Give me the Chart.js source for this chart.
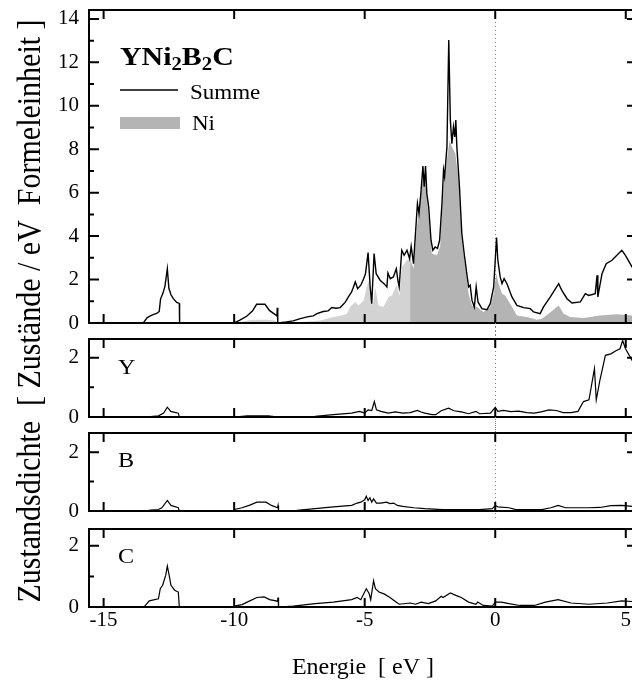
<!DOCTYPE html>
<html><head><meta charset="utf-8">
<script src="https://cdn.jsdelivr.net/npm/chart.js@4.4.1/dist/chart.umd.min.js"></script>
<style>
html,body{margin:0;padding:0;overflow:hidden;background:#fff;width:632px;height:687px}
#wrap{position:relative;width:632px;height:687px;overflow:hidden;background:#fff}
canvas{position:absolute;left:0;top:0}
</style></head><body>
<div id="wrap">
<canvas id="cTop" width="645" height="687" style="top:-13px"></canvas>
<canvas id="cY" width="645" height="687"></canvas>
<canvas id="cB" width="645" height="687"></canvas>
<canvas id="cC" width="645" height="687"></canvas>
</div>
<script>
// ---------- tick labels ----------
const xTickLabels = [-15, -10, -5, 0, 5];
const topYTicks = [0, 2, 4, 6, 8, 10, 12, 14];
const topYMinor = [1, 3, 5, 7, 9, 11, 13];
const subYTicks = [0, 2];
const subYMinor = [1];

// ---------- Summe (total DOS) ----------
const sumE = [-15.6,-13.48,-13.33,-13.15,-12.95,-12.87,-12.82,-12.72,-12.65,-12.56,-12.5,-12.42,-12.33,-12.2,-12.1,-12.09,
-10.0,-9.8,-9.52,-9.3,-9.14,-8.82,-8.65,-8.44,-8.36,-8.35,-8.33,-8.0,-7.74,-7.47,-7.2,-6.97,-6.83,-6.59,-6.4,-6.26,-6.1,-5.94,
-5.75,-5.6,-5.5,-5.36,-5.27,-5.15,-5.04,-4.97,-4.87,-4.79,-4.73,-4.64,-4.56,-4.41,-4.25,-4.15,-4.11,-4.02,-3.9,-3.79,-3.73,-3.68,
-3.58,-3.49,-3.38,-3.28,-3.22,-3.13,-3.03,-2.98,-2.92,-2.85,-2.77,-2.72,-2.67,-2.62,-2.55,-2.46,-2.39,-2.3,-2.21,-2.13,-2.04,
-1.98,-1.94,-1.85,-1.78,-1.72,-1.66,-1.6,-1.55,-1.51,-1.47,-1.37,-1.28,-1.19,-1.09,-1.02,-0.96,-0.89,-0.8,-0.73,-0.66,-0.51,
-0.32,-0.19,-0.06,0.0,0.05,0.1,0.19,0.26,0.34,0.45,0.64,0.83,1.09,1.34,1.47,1.72,1.85,2.11,2.43,2.55,2.75,2.94,3.26,3.45,3.58,
3.83,3.9,3.93,4.09,4.25,4.47,4.66,4.85,4.98,5.24,5.45];
const sumV = [0,0,0.25,0.36,0.45,0.53,1.1,1.4,1.7,2.5,1.6,1.3,1.12,0.95,0.9,0,
0,0.12,0.31,0.55,0.86,0.86,0.58,0.4,0.32,0.7,0,0.05,0.1,0.2,0.28,0.33,0.43,0.53,0.56,0.71,0.68,0.71,
0.95,1.25,1.43,1.89,1.58,1.74,2.04,2.27,3.24,1.66,0.89,3.2,2.27,1.97,1.8,1.66,2.3,2.04,2.12,2.5,1.97,1.66,
3.35,3.12,3.35,2.96,3.53,2.73,4.58,5.5,5.04,5.96,7.23,6.27,7.23,5.96,5.35,3.81,3.35,3.5,3.43,3.81,5.5,
7.04,6.73,8.11,13.03,9.34,8.26,9.03,8.57,9.34,8.11,6.27,4.12,3.2,2.27,1.66,1.74,1.04,0.74,1.66,0.97,0.66,
0.61,0.89,1.66,2.89,3.93,2.89,2.12,1.81,2.04,1.81,1.2,0.81,0.71,0.66,0.51,0.43,0.74,1.2,1.81,1.5,1.12,0.92,0.97,1.35,1.27,
1.35,2.2,1.2,2.27,2.73,2.89,3.12,3.35,3.12,2.58,2.4];

// ---------- Ni partial DOS (two shades) ----------
const niLoE = [-10.0,-9.6,-9.3,-8.7,-8.4,-8.33,-7.8,-7.47,-6.7,-6.19,-5.9,-5.68,-5.56,-5.36,-5.24,-5.04,-4.92,-4.83,-4.75,-4.69,
-4.6,-4.47,-4.28,-4.09,-3.96,-3.77,-3.67,-3.58,-3.38,-3.26];
const niLoV = [0,0.08,0.15,0.15,0.1,0,0.02,0.05,0.12,0.28,0.35,0.43,0.74,0.97,0.81,1.04,1.66,1.97,1.04,0.81,
1.66,0.81,0.74,1.2,1.27,1.74,1.27,2.58,2.89,2.96];
const niHiE = [-3.26,-3.13,-3.0,-2.87,-2.77,-2.67,-2.55,-2.43,-2.24,-2.11,-1.98,-1.85,-1.75,-1.66,-1.53,-1.4,-1.28,-1.15,-1.02,
-0.89,-0.7,-0.45,-0.19,-0.06,0.04,0.13,0.26,0.38,0.57,0.83,1.21,1.6,1.79,2.04,2.43,2.62,2.87,3.38,4.02,4.66,5.24,5.45];
const niHiV = [2.96,2.5,4.42,5.65,6.73,6.57,4.88,3.2,3.12,3.5,6.27,7.5,8.4,8.11,7.8,6.57,3.81,2.58,1.35,
0.81,0.74,0.51,0.74,1.35,2.27,1.81,1.35,1.27,0.89,0.35,0.28,0.15,0.2,0.43,0.81,0.43,0.28,0.23,0.35,0.4,0.35,0.35];

// ---------- Y partial DOS ----------
const yE = [-15.6,-13.4,-12.9,-12.7,-12.56,-12.43,-12.14,-12.1,-10,-9.5,-8.7,-8.3,-7.5,-6.9,-6.2,-5.5,-5.2,-5.0,-4.87,-4.73,
-4.63,-4.55,-4.38,-4.1,-3.82,-3.54,-3.26,-2.98,-2.84,-2.7,-2.42,-2.28,-2.07,-1.79,-1.58,-1.3,-1.02,-0.74,-0.6,-0.18,0,0.1,
0.31,0.6,0.9,1.2,1.5,1.8,2.06,2.34,2.6,2.9,3.17,3.38,3.59,3.8,3.87,4.01,4.22,4.43,4.64,4.78,4.88,4.99,5.24,5.45];
const yV = [0,0,0.04,0.13,0.33,0.19,0.13,0,0,0.04,0.04,0,0,0.02,0.08,0.13,0.19,0.13,0.24,0.22,
0.52,0.24,0.19,0.13,0.17,0.13,0.15,0.22,0.17,0.13,0.08,0.08,0.21,0.3,0.21,0.17,0.11,0.19,0.11,0.13,0.33,0.19,
0.22,0.18,0.2,0.15,0.13,0.18,0.24,0.22,0.15,0.15,0.19,0.52,0.58,1.63,0.58,1.24,2.08,2.13,2.24,2.3,2.58,2.3,1.91,1.8];

// ---------- B partial DOS ----------
const bE = [-15.6,-13.4,-13.2,-12.9,-12.77,-12.56,-12.42,-12.14,-12.1,-10,-9.98,-9.7,-9.4,-9.13,-8.78,-8.57,-8.34,-8.32,-8.3,
-7.6,-6.9,-6.2,-5.5,-5.29,-5.15,-5.0,-4.94,-4.87,-4.8,-4.73,-4.66,-4.55,-4.38,-4.17,-4.03,-3.89,-3.75,-3.54,-3.12,-2.7,-2.0,
-1.3,-0.6,-0.11,0,0.1,0.52,0.8,1.78,2.13,2.41,2.69,3.59,4.01,4.43,4.85,5.24,5.45];
const bV = [0,0,0.03,0.05,0.11,0.36,0.19,0.11,0,0,0.05,0.11,0.2,0.3,0.3,0.19,0.11,0.19,0,
0.02,0.08,0.14,0.19,0.27,0.3,0.38,0.5,0.36,0.45,0.3,0.41,0.27,0.27,0.3,0.25,0.27,0.19,0.16,0.11,0.08,0.05,
0.05,0.05,0.08,0.19,0.14,0.11,0.05,0.05,0.11,0.19,0.11,0.11,0.12,0.18,0.19,0.16,0.16];

// ---------- C partial DOS ----------
const cE = [-15.6,-13.45,-13.4,-13.25,-12.9,-12.83,-12.74,-12.62,-12.56,-12.49,-12.42,-12.28,-12.14,-12.1,-10,-9.98,-9.7,-9.4,
-9.13,-8.85,-8.64,-8.34,-8.32,-8.3,-7.74,-6.9,-6.2,-5.5,-5.29,-5.15,-4.94,-4.83,-4.77,-4.66,-4.59,-4.45,-4.24,-4.03,-3.89,
-3.68,-3.26,-3.05,-2.84,-2.56,-2.28,-2.07,-2.0,-1.72,-1.51,-1.3,-1.02,-0.74,-0.67,-0.46,-0.11,0,0.24,0.52,0.94,1.5,1.92,
2.41,2.9,3.59,4.29,4.85,5.24,5.45];
const cV = [0,0,0.05,0.2,0.27,0.6,0.71,1.04,1.34,1.04,0.71,0.55,0.49,0,0,0.03,0.08,0.2,
0.31,0.33,0.24,0.19,0.31,0,0.03,0.11,0.16,0.24,0.31,0.24,0.6,0.44,0.24,0.86,0.6,0.49,0.42,0.31,0.22,
0.09,0.13,0.09,0.16,0.11,0.2,0.35,0.31,0.46,0.38,0.31,0.16,0.09,0.16,0.05,0.03,0.16,0.16,0.11,0.05,0.05,0.16,
0.24,0.13,0.09,0.13,0.2,0.18,0.18];

// ---------- texts ----------
const formulaParts = [['YNi', false], ['2', true], ['B', false], ['2', true], ['C', false]];
const legendLabels = ['Summe', 'Ni'];
const panelLabels = ['Y', 'B', 'C'];
const xTitle = 'Energie  [ eV ]';
const yTitle = 'Zustandsdichte  [ Zustände / eV  Formeleinheit ]';

// ---------- helpers ----------
const SERIF = '"Liberation Serif", "Times New Roman", serif';
const pts = (E, V) => E.map((e, i) => ({x: e, y: V[i]}));
const STRETCH = 1.15;
const TOP_SHIFT = 13; // top canvas is moved up by this many px

function stretchedText(ctx, txt, x, y, font) {
  ctx.save();
  ctx.font = font;
  ctx.textBaseline = 'alphabetic';
  ctx.textAlign = 'left';
  ctx.translate(x, y);
  ctx.scale(STRETCH, 1);
  ctx.fillStyle = '#000';
  ctx.fillText(txt, 0, 0);
  ctx.restore();
}

function makeFrame(o) {
  return {
    id: 'frame_' + o.name,
    beforeDatasetsDraw(chart) {
      if (!o.dotted) return;
      const ctx = chart.ctx;
      const x = Math.round(chart.scales.x.getPixelForValue(0)) + 0.5;
      ctx.save();
      ctx.strokeStyle = '#808080';
      ctx.lineWidth = 1;
      ctx.setLineDash([1, 3]);
      ctx.beginPath();
      ctx.moveTo(x, o.dotted[0]);
      ctx.lineTo(x, o.dotted[1]);
      ctx.stroke();
      ctx.restore();
    },
    afterDatasetsDraw(chart) {
      const {ctx, chartArea: a, scales: {x, y}} = chart;
      ctx.save();
      ctx.strokeStyle = '#000';
      ctx.lineWidth = 2;
      ctx.strokeRect(a.left, a.top, a.right - a.left, a.bottom - a.top);
      ctx.beginPath();
      for (const v of xTickLabels) {
        const px = x.getPixelForValue(v);
        ctx.moveTo(px, a.bottom); ctx.lineTo(px, a.bottom - 9);
        ctx.moveTo(px, a.top); ctx.lineTo(px, a.top + 9);
      }
      for (const v of o.yTicks) {
        const py = y.getPixelForValue(v);
        ctx.moveTo(a.left, py); ctx.lineTo(a.left + 10, py);
        ctx.moveTo(a.right, py); ctx.lineTo(a.right - 10, py);
      }
      for (const v of o.yMinor) {
        const py = y.getPixelForValue(v);
        ctx.moveTo(a.left, py); ctx.lineTo(a.left + 5, py);
        ctx.moveTo(a.right, py); ctx.lineTo(a.right - 5, py);
      }
      ctx.stroke();
      ctx.restore();
      if (o.draw) o.draw(ctx, chart);
    }
  };
}

function makeChart(id, o) {
  const tickFont = {family: SERIF, size: 21};
  const xScale = {
    type: 'linear', min: -15.56, max: 5.43,
    display: !!o.showX,
    grid: {display: false, drawTicks: false},
    border: {display: false},
    ticks: {font: tickFont, color: '#000', padding: 1, maxRotation: 0, autoSkip: false, callback: v => String(v)},
    afterBuildTicks: s => { s.ticks = xTickLabels.map(v => ({value: v})); }
  };
  if (o.showX) {
    xScale.title = {display: true, text: xTitle, color: '#000', font: {family: SERIF, size: 24}, padding: {top: 0, bottom: 5}};
    xScale.afterFit = s => { s.height = 80; };
  }
  return new Chart(document.getElementById(id), {
    type: 'line',
    data: {datasets: o.datasets},
    options: {
      responsive: false, animation: false, devicePixelRatio: 1,
      layout: {padding: {left: 0, right: 8, top: o.padTop, bottom: o.padBottom}},
      plugins: {legend: {display: false}, tooltip: {enabled: false}},
      elements: {point: {radius: 0}, line: {tension: 0}},
      scales: {
        x: xScale,
        y: {
          type: 'linear', min: 0, max: o.yMax,
          grid: {display: false, drawTicks: false},
          border: {display: false},
          ticks: {font: tickFont, color: '#000', padding: 10, callback: v => String(v)},
          afterBuildTicks: s => { s.ticks = o.yTicks.map(v => ({value: v})); },
          afterFit: s => { s.width = 89; }
        }
      }
    },
    plugins: [makeFrame(o)]
  });
}

const lineDs = (label, E, V, w) => ({label, data: pts(E, V), borderColor: '#000', borderWidth: w, pointRadius: 0, fill: false});

// ---------- top panel (canvas shifted up by TOP_SHIFT) ----------
makeChart('cTop', {
  name: 'top', padTop: 10 + TOP_SHIFT, padBottom: 687 - 323 - TOP_SHIFT, yMax: 14.41,
  yTicks: topYTicks, yMinor: topYMinor, dotted: [10 + TOP_SHIFT, 339 + TOP_SHIFT],
  datasets: [
    lineDs(legendLabels[0], sumE, sumV, 1.4),
    {label: legendLabels[1], data: pts(niLoE, niLoV), borderWidth: 0, borderColor: 'rgba(0,0,0,0)', backgroundColor: '#d3d3d3', fill: 'origin', pointRadius: 0},
    {label: legendLabels[1], data: pts(niHiE, niHiV), borderWidth: 0, borderColor: 'rgba(0,0,0,0)', backgroundColor: '#b4b4b4', fill: 'origin', pointRadius: 0}
  ],
  draw(ctx) {
    const s = TOP_SHIFT;
    let x = 120;
    ctx.save();
    for (const [t, sub] of formulaParts) {
      const font = sub ? 'bold 18px ' + SERIF : 'bold 26px ' + SERIF;
      ctx.font = font;
      const w = ctx.measureText(t).width * STRETCH;
      stretchedText(ctx, t, x, (sub ? 70 : 65) + s, font);
      x += w;
    }
    ctx.strokeStyle = '#000';
    ctx.lineWidth = 1.4;
    ctx.beginPath(); ctx.moveTo(120, 90 + s); ctx.lineTo(178, 90 + s); ctx.stroke();
    stretchedText(ctx, legendLabels[0], 190, 99 + s, '20px ' + SERIF);
    ctx.fillStyle = '#b4b4b4';
    ctx.fillRect(120, 117 + s, 60, 12);
    stretchedText(ctx, legendLabels[1], 192, 130 + s, '20px ' + SERIF);
    ctx.restore();
  }
});

// ---------- Y panel ----------
makeChart('cY', {
  name: 'Y', padTop: 339, padBottom: 687 - 417, yMax: 2.63,
  yTicks: subYTicks, yMinor: subYMinor, dotted: [323, 433],
  datasets: [lineDs(panelLabels[0], yE, yV, 1.2)],
  draw(ctx) { stretchedText(ctx, panelLabels[0], 118, 374, '21px ' + SERIF); }
});

// ---------- B panel ----------
makeChart('cB', {
  name: 'B', padTop: 433, padBottom: 687 - 511, yMax: 2.65,
  yTicks: subYTicks, yMinor: subYMinor, dotted: [417, 520],
  datasets: [lineDs(panelLabels[1], bE, bV, 1.2)],
  draw(ctx) { stretchedText(ctx, panelLabels[1], 118, 467, '21px ' + SERIF); }
});

// ---------- C panel ----------
makeChart('cC', {
  name: 'C', padTop: 529, padBottom: 0, yMax: 2.55, showX: true,
  yTicks: subYTicks, yMinor: subYMinor, dotted: null,
  datasets: [lineDs(panelLabels[2], cE, cV, 1.2)],
  draw(ctx) {
    stretchedText(ctx, panelLabels[2], 118, 563, '21px ' + SERIF);
    ctx.save();
    ctx.font = '30px ' + SERIF;
    ctx.fillStyle = '#000';
    ctx.textAlign = 'center';
    ctx.textBaseline = 'middle';
    ctx.translate(31, 311);
    ctx.rotate(-Math.PI / 2);
    ctx.scale(1, STRETCH);
    ctx.fillText(yTitle, 0, 0);
    ctx.restore();
  }
});
</script>
</body></html>
